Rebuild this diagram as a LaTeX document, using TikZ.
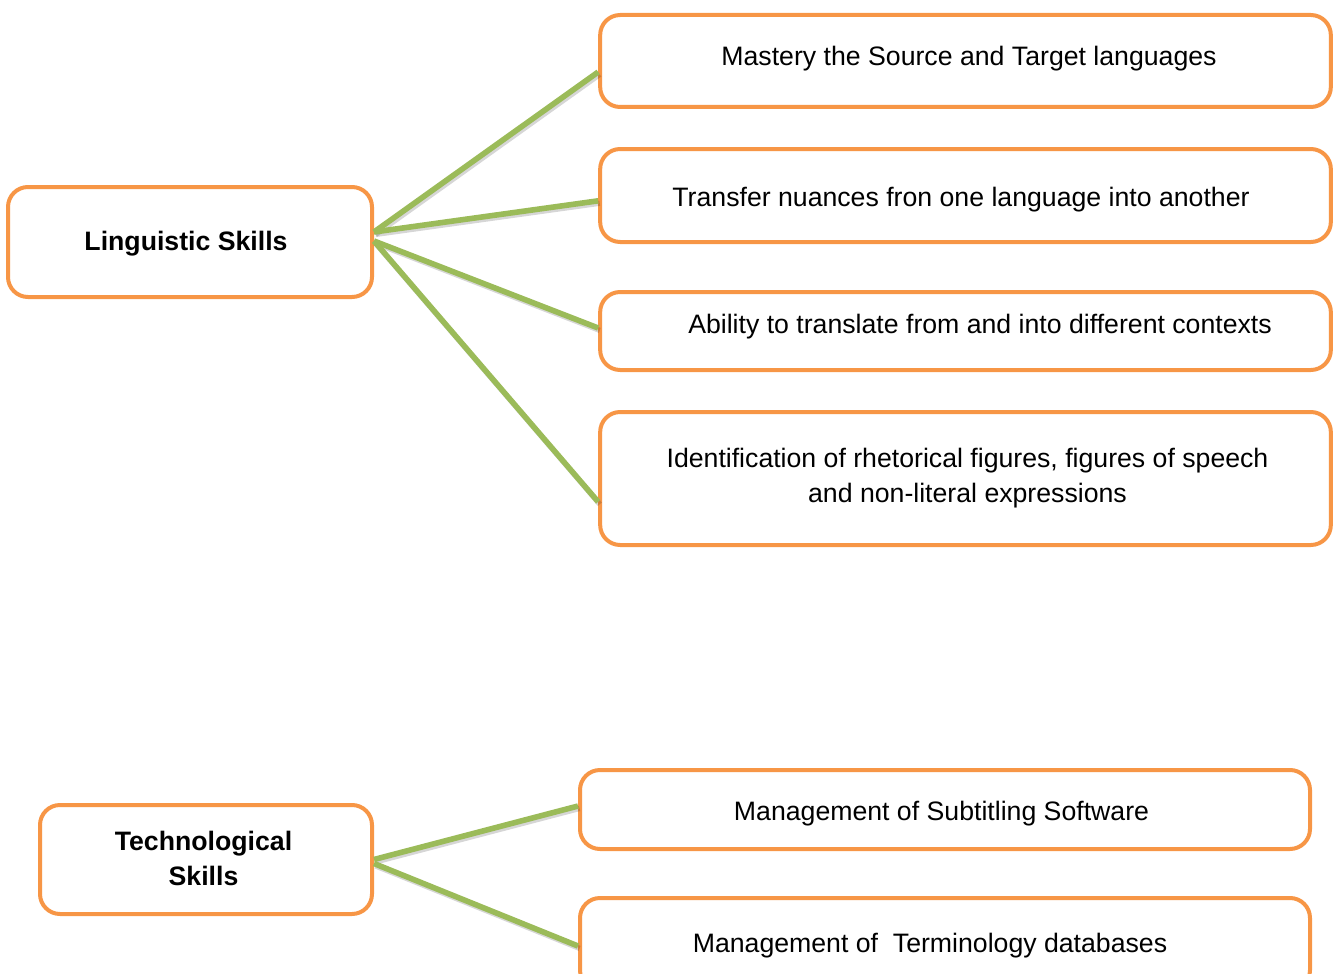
\documentclass[tikz,border=0pt]{standalone}
\usepackage{fontspec}
\setmainfont{Liberation Sans}
% text line placed inside a box: #1 horizontal padding (twice the shift), #2 raise, #3 text
\newcommand\placetext[3]{\raisebox{#2}[0pt][0pt]{\makebox[0pt]{\hspace*{#1}#3}}}
\begin{document}
\begin{tikzpicture}[x=0.75pt,y=-0.75pt,
  skillbox/.style={draw=boxorange, line width=3pt, rounded corners=15pt, fill=white,
    inner sep=0pt, font=\fontsize{20}{26}\selectfont},
  headbox/.style={skillbox, font=\fontsize{20}{26}\selectfont\bfseries},
  link/.style={draw=linkgreen, line width=4.2pt,
    preaction={draw=black, opacity=0.16, line width=4pt,
      transform canvas={shift={(1.2pt,-1.8pt)}}}}]
\definecolor{boxorange}{HTML}{F79646}
\definecolor{linkgreen}{HTML}{9BBB59}
\useasboundingbox (0,0) rectangle (1335,974);

% Linguistic skills and its four items
\node[headbox, minimum width=273pt, minimum height=82.5pt] (ling) at (190,242)
  {\placetext{-6pt}{-6pt}{Linguistic Skills}};
\node[skillbox, minimum width=548pt, minimum height=69pt] (l1) at (965.5,61)
  {\placetext{5.25pt}{-3pt}{Mastery the Source and Target languages}};
\node[skillbox, minimum width=548pt, minimum height=69.75pt] (l2) at (965.5,195.5)
  {\placetext{-6.75pt}{-8.6pt}{Transfer nuances fron one language into another}};
\node[skillbox, minimum width=548pt, minimum height=58.5pt] (l3) at (965.5,331)
  {\placetext{21.75pt}{-1.5pt}{Ability to translate from and into different contexts}};
\node[skillbox, minimum width=548pt, minimum height=99.75pt] (l4) at (965.5,478.5)
  {\placetext{3pt}{8.6pt}{Identification of rhetorical figures, figures of speech}%
   \placetext{3pt}{-18.3pt}{and non-literal expressions}};

% Technological skills and its two items
\node[headbox, minimum width=249pt, minimum height=81.75pt] (tech) at (206,859.5)
  {\placetext{-3.75pt}{7.1pt}{Technological}\placetext{-3.75pt}{-19.4pt}{Skills}};
\node[skillbox, minimum width=547.5pt, minimum height=59.25pt] (t1) at (945,809.5)
  {\placetext{-5.25pt}{-7.9pt}{Management of Subtitling Software}};
\node[skillbox, minimum width=547.5pt, minimum height=69pt] (t2) at (945,944)
  {\placetext{-22.5pt}{-6pt}{Management of~~Terminology databases}};

% connectors
\path[link] ([yshift=7.5pt]ling.east) -- ([yshift=-8.25pt]l1.west);
\path[link] ([yshift=7.5pt]ling.east) -- ([yshift=-4pt]l2.west);
\path[link] ([yshift=0.75pt]ling.east) -- ([yshift=2.25pt]l3.west);
\path[link] ([yshift=0.75pt]ling.east) -- ([yshift=-17.5pt]l4.west);
\path[link] ([yshift=0pt]tech.east) -- ([yshift=2.6pt]t1.west);
\path[link] ([yshift=-3pt]tech.east) -- ([yshift=-1.5pt]t2.west);
\end{tikzpicture}
\end{document}
